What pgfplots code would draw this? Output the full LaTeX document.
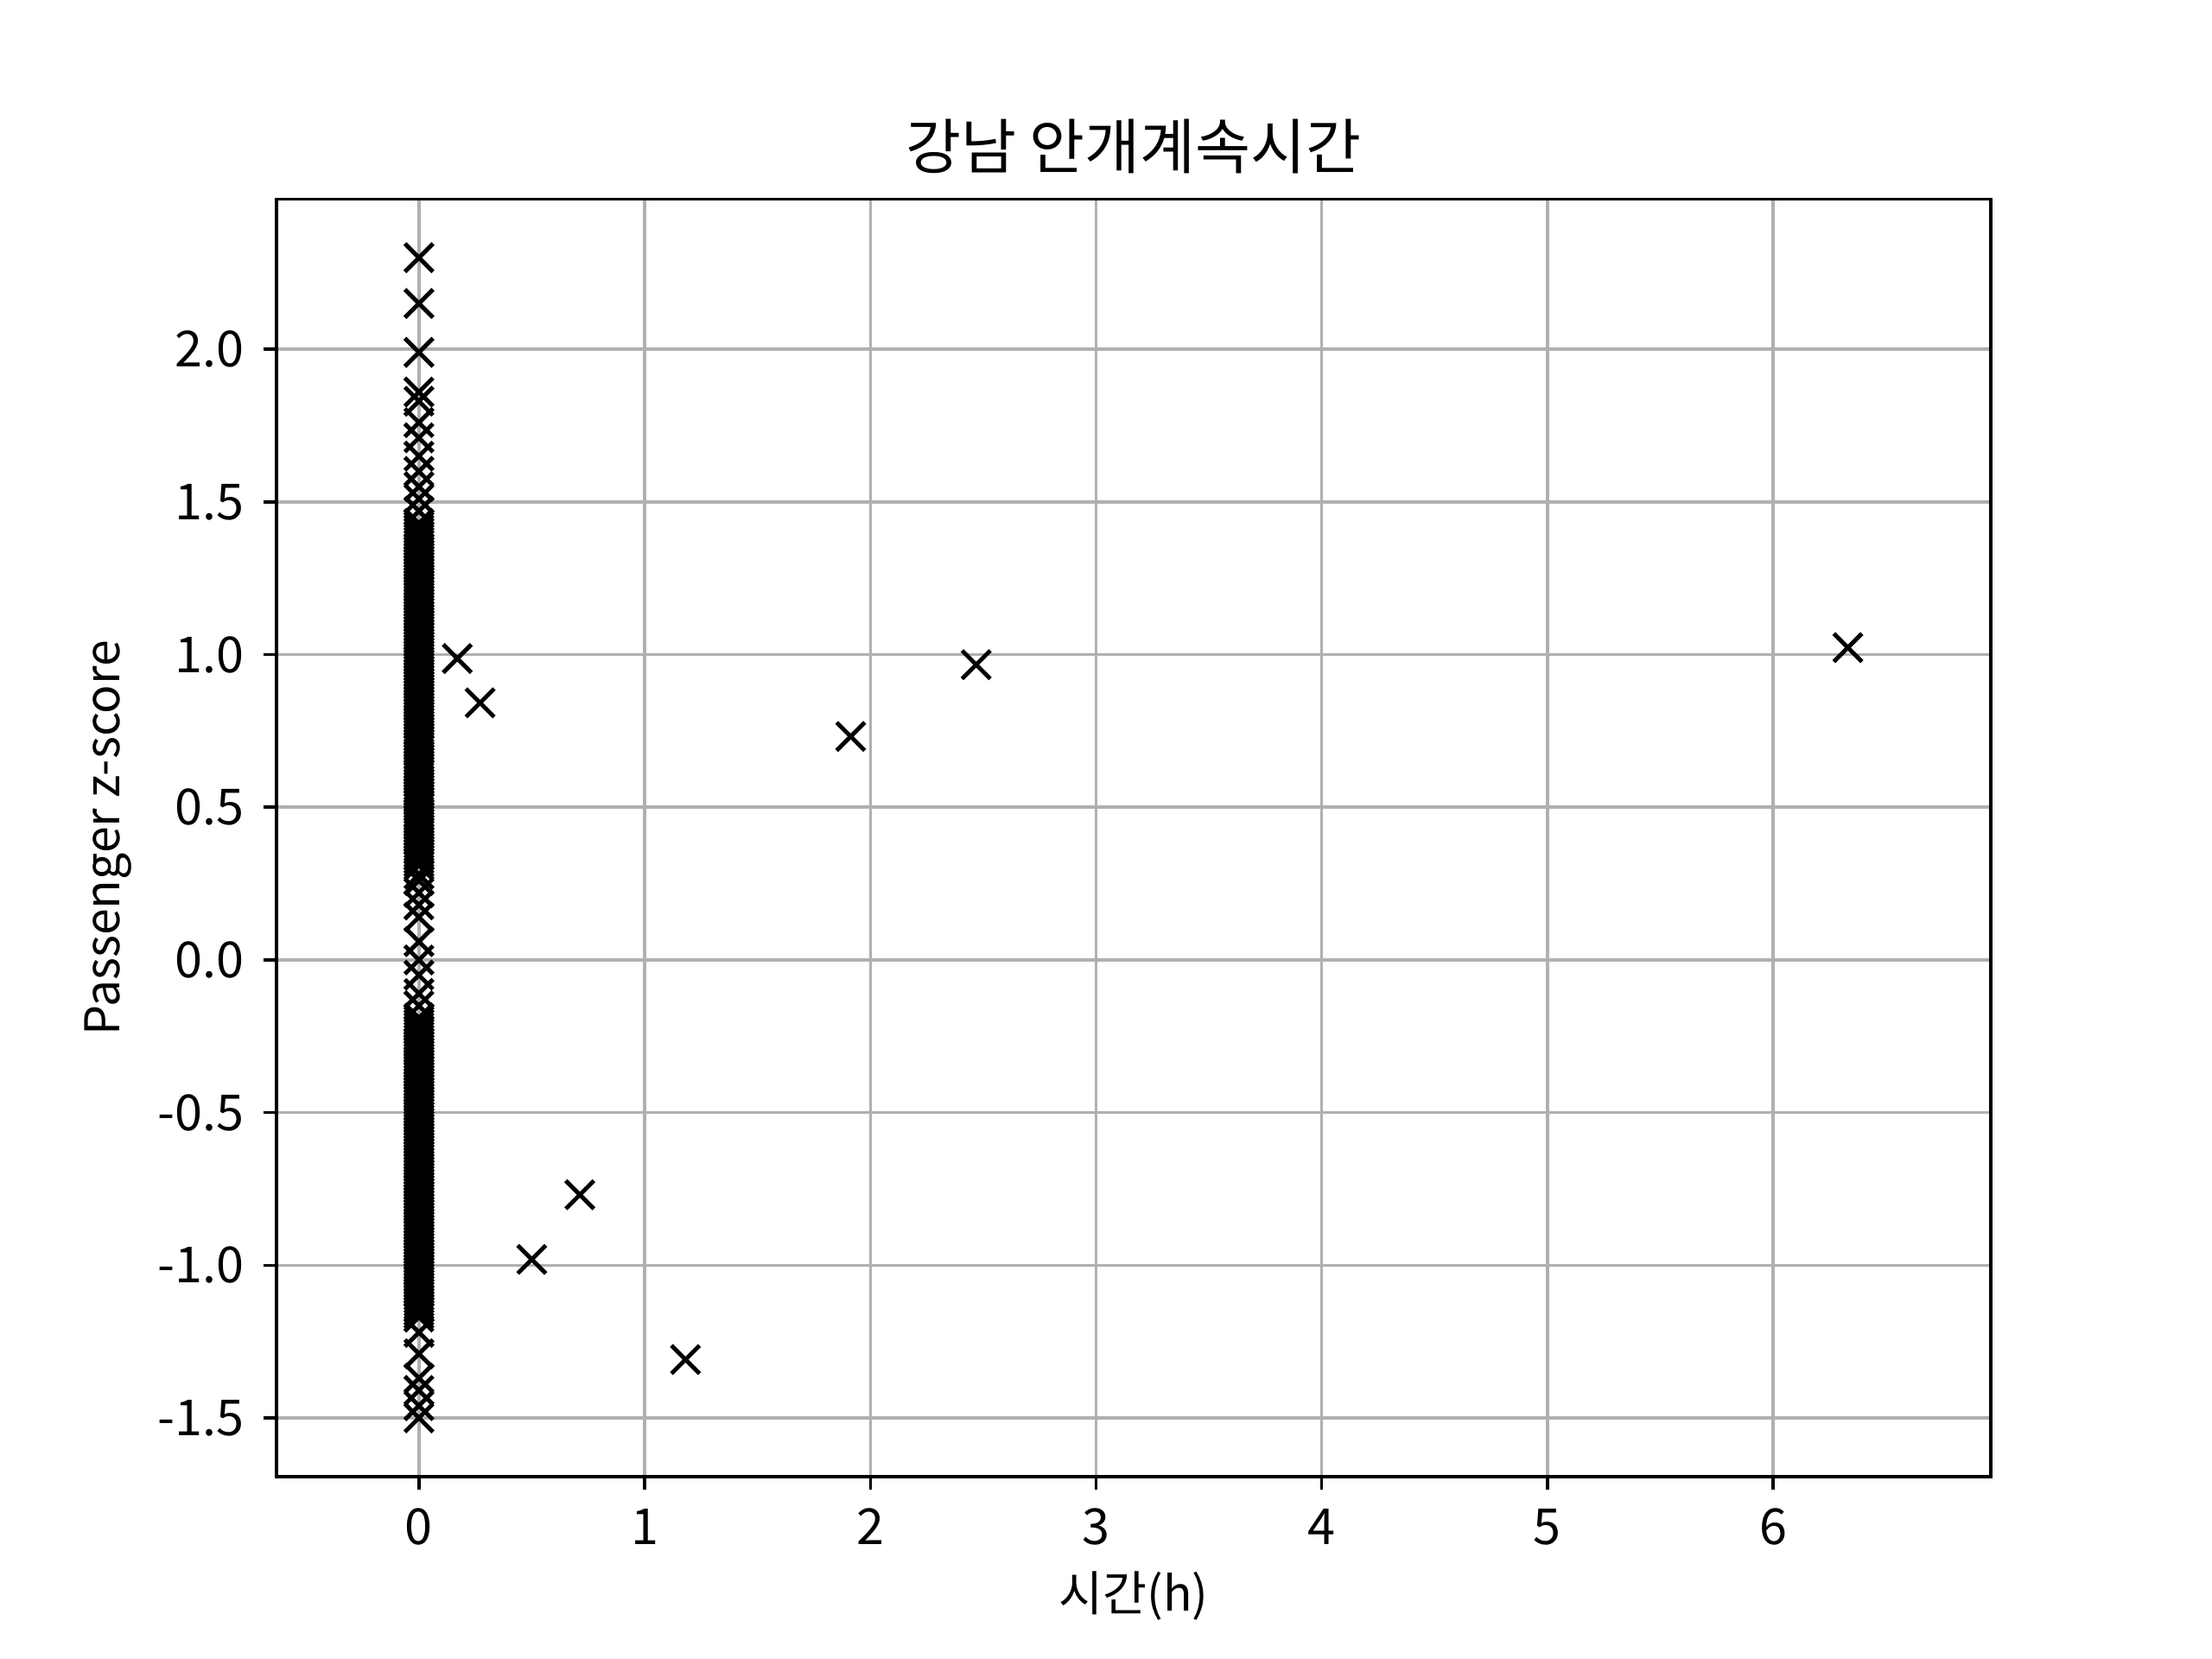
\documentclass[border=0pt]{standalone}
\usepackage{fontspec}
\setmainfont{Noto Sans CJK KR}
\usepackage{pgfplots}
\usepackage{pgfplotstable}
\pgfplotsset{compat=1.18}
\definecolor{gridgray}{HTML}{B0B0B0}
\pgfplotstableread{
x y
0 2.30
0 2.15
0 1.99
0 1.86
0 1.83
0 1.76
0 1.71
0 1.65
0 1.60
0 1.55
0 1.51
0 1.47
0 1.43
0 1.42
0 1.41
0 1.40
0 1.39
0 1.38
0 1.37
0 1.36
0 1.35
0 1.34
0 1.33
0 1.32
0 1.31
0 1.30
0 1.29
0 1.28
0 1.27
0 1.26
0 1.25
0 1.24
0 1.23
0 1.22
0 1.21
0 1.20
0 1.19
0 1.18
0 1.17
0 1.16
0 1.15
0 1.14
0 1.13
0 1.12
0 1.11
0 1.10
0 1.09
0 1.08
0 1.07
0 1.06
0 1.05
0 1.04
0 1.03
0 1.02
0 1.01
0 1.00
0 0.99
0 0.98
0 0.97
0 0.96
0 0.95
0 0.94
0 0.93
0 0.92
0 0.91
0 0.90
0 0.89
0 0.88
0 0.87
0 0.86
0 0.85
0 0.84
0 0.83
0 0.82
0 0.81
0 0.80
0 0.79
0 0.78
0 0.77
0 0.76
0 0.75
0 0.74
0 0.73
0 0.72
0 0.71
0 0.70
0 0.69
0 0.67
0 0.66
0 0.65
0 0.64
0 0.63
0 0.62
0 0.61
0 0.60
0 0.59
0 0.58
0 0.57
0 0.56
0 0.55
0 0.54
0 0.53
0 0.52
0 0.51
0 0.50
0 0.48
0 0.47
0 0.46
0 0.45
0 0.44
0 0.43
0 0.42
0 0.41
0 0.40
0 0.39
0 0.38
0 0.37
0 0.36
0 0.35
0 0.34
0 0.33
0 0.32
0 0.31
0 0.28
0 0.26
0 0.22
0 0.18
0 0.14
0 0.06
0 0.00
0 -0.05
0 -0.11
0 -0.15
0 -0.19
0 -0.20
0 -0.21
0 -0.22
0 -0.23
0 -0.24
0 -0.25
0 -0.26
0 -0.27
0 -0.28
0 -0.29
0 -0.30
0 -0.31
0 -0.32
0 -0.33
0 -0.34
0 -0.35
0 -0.36
0 -0.37
0 -0.38
0 -0.39
0 -0.40
0 -0.41
0 -0.42
0 -0.43
0 -0.44
0 -0.45
0 -0.46
0 -0.47
0 -0.48
0 -0.49
0 -0.50
0 -0.51
0 -0.52
0 -0.53
0 -0.54
0 -0.55
0 -0.56
0 -0.57
0 -0.58
0 -0.59
0 -0.60
0 -0.61
0 -0.62
0 -0.63
0 -0.64
0 -0.65
0 -0.66
0 -0.67
0 -0.68
0 -0.69
0 -0.70
0 -0.71
0 -0.72
0 -0.73
0 -0.74
0 -0.75
0 -0.76
0 -0.77
0 -0.78
0 -0.79
0 -0.80
0 -0.81
0 -0.82
0 -0.83
0 -0.84
0 -0.85
0 -0.86
0 -0.87
0 -0.88
0 -0.89
0 -0.90
0 -0.91
0 -0.92
0 -0.93
0 -0.94
0 -0.95
0 -0.96
0 -0.97
0 -0.98
0 -0.99
0 -1.00
0 -1.01
0 -1.02
0 -1.03
0 -1.04
0 -1.05
0 -1.06
0 -1.07
0 -1.08
0 -1.09
0 -1.10
0 -1.11
0 -1.12
0 -1.13
0 -1.14
0 -1.15
0 -1.16
0 -1.17
0 -1.22
0 -1.29
0 -1.37
0 -1.41
0 -1.46
0 -1.50
0.170 0.987
0.271 0.842
1.913 0.732
2.469 0.967
6.331 1.023
0.500 -0.981
0.713 -0.769
1.181 -1.309
}\datatable
\begin{document}
\begin{tikzpicture}
\useasboundingbox (0,0) rectangle (8in,6in);
\begin{axis}[
  at={(1in,0.66in)}, anchor=south west,
  scale only axis, width=6.2in, height=4.62in,
  xmin=-0.631, xmax=6.964, ymin=-1.692, ymax=2.492,
  axis line style={line width=0.8pt},
  xtick={0,1,2,3,4,5,6},
  ytick={-1.5,-1.0,-0.5,0,0.5,1.0,1.5,2.0},
  yticklabel style={xshift=-1.5pt, /pgf/number format/.cd, fixed, fixed zerofill, precision=1},
  /pgf/number format/assume math mode=true,
  tick align=outside, major tick length=3.5pt,
  tick style={line width=0.8pt, black},
  xtick pos=bottom, ytick pos=left,
  grid=major, major grid style={line width=0.8pt, gridgray},
  ticklabel style={font=\fontsize{13}{15}\selectfont},
  xticklabel style={yshift=-1.4pt},
  label style={font=\fontsize{12.5}{14}\selectfont},
  title style={font=\fontsize{15.7}{18}\selectfont, yshift=-3pt},
  title={강남 안개계속시간},
  xlabel={시간(h)},
  ylabel={Passenger z-score},
  clip=false,
]
\addplot[only marks, mark=x, mark size=5.2pt, line width=1.1pt, black] table[x=x, y=y] {\datatable};
\end{axis}
\end{tikzpicture}
\end{document}
